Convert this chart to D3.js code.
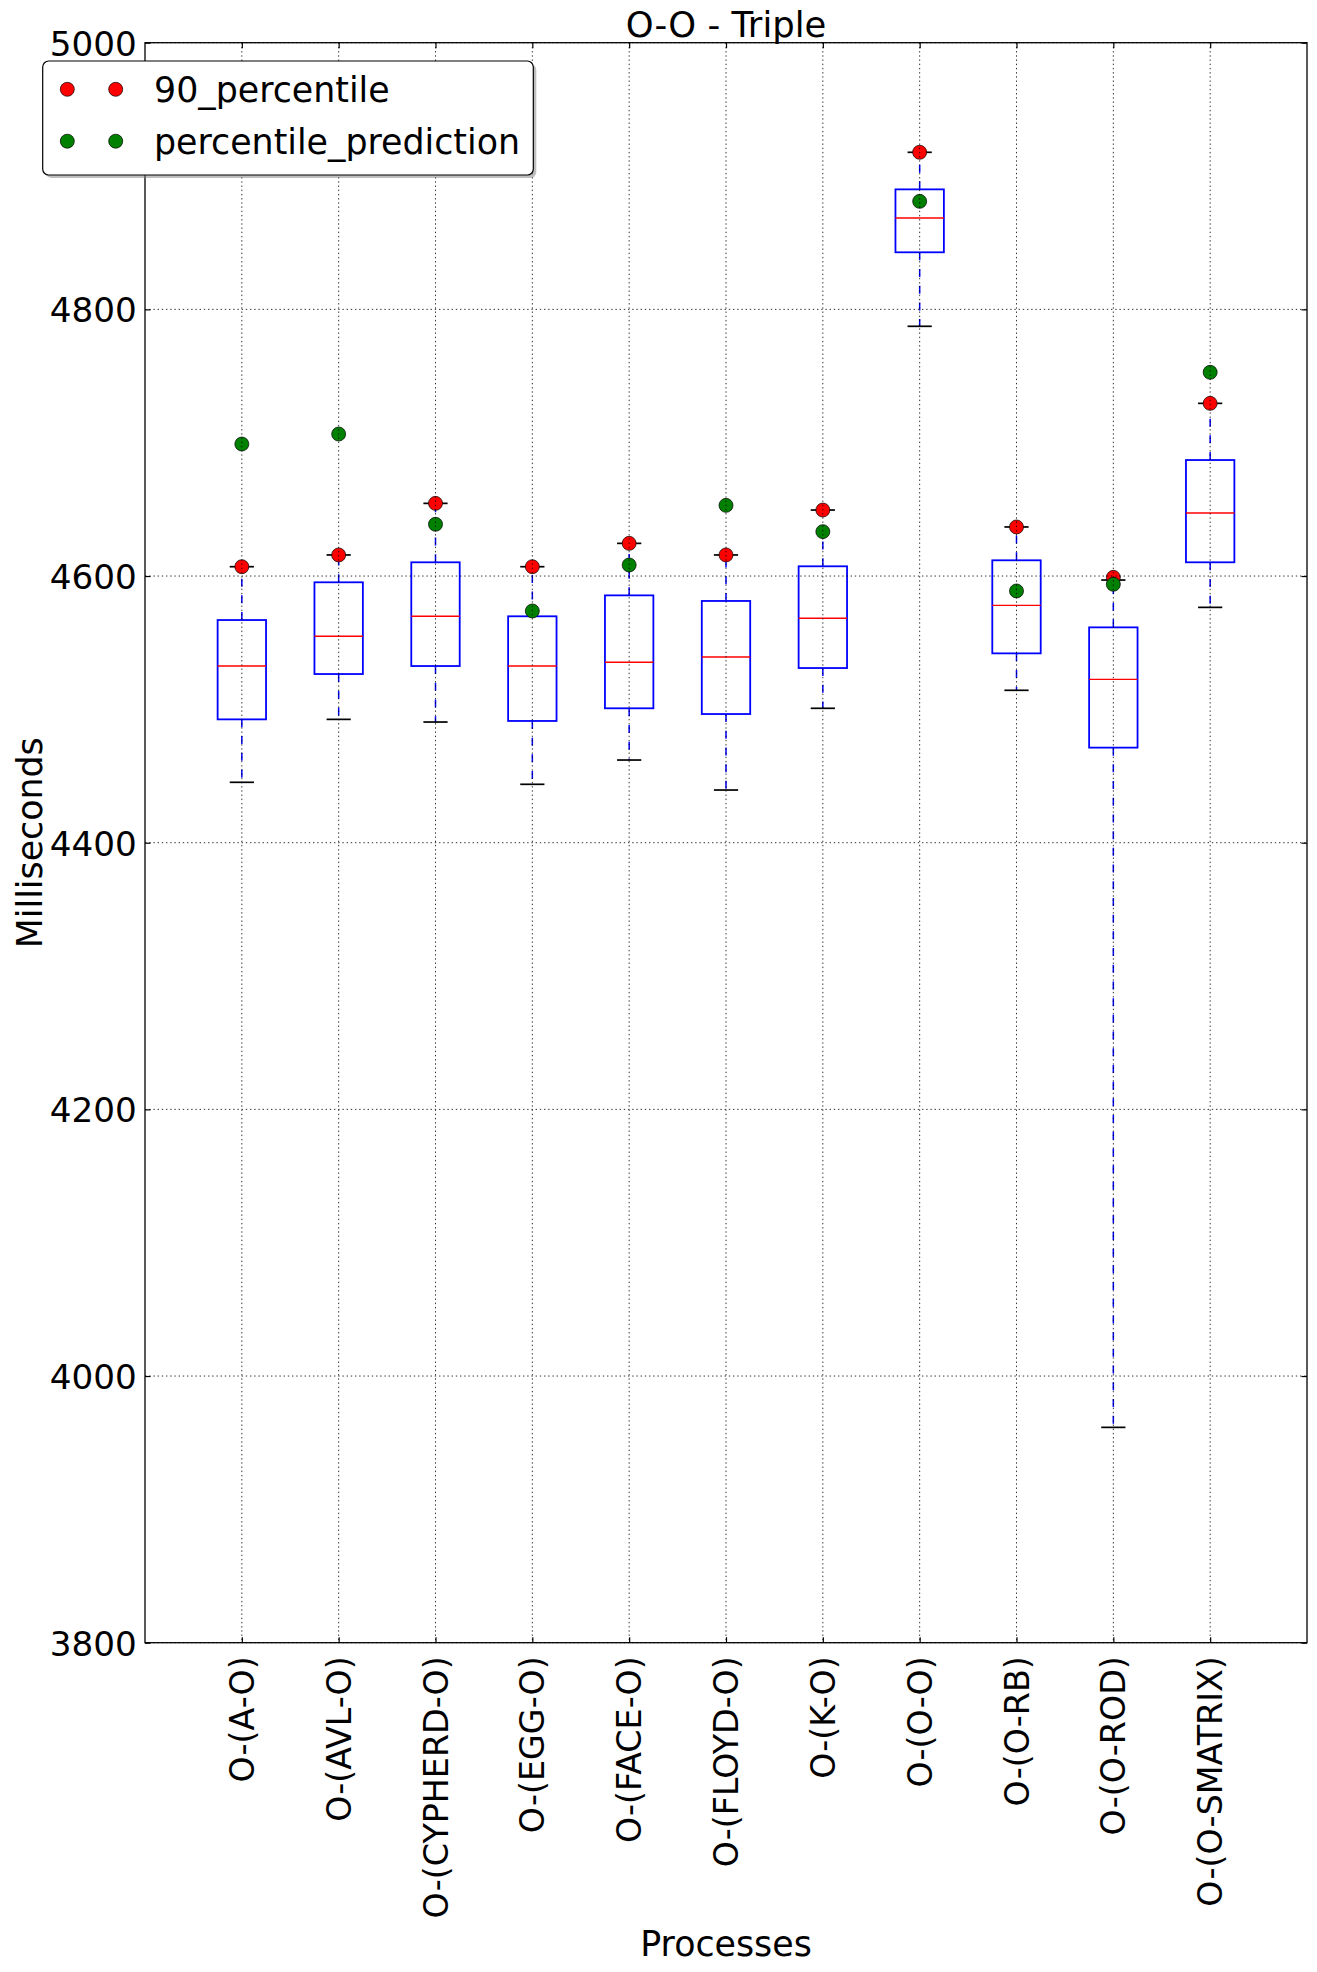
<!DOCTYPE html>
<html>
<head>
<meta charset="utf-8">
<script src="https://cdn.jsdelivr.net/npm/d3@7"></script>
<style>
  html, body { margin: 0; padding: 0; background: #fff; }
  svg { display: block; font-family: "DejaVu Sans", sans-serif; }
</style>
</head>
<body>
<svg id="chart" width="1317" height="1972"></svg>
<script>
// ---- data ----
const categories = ["O-(A-O)", "O-(AVL-O)", "O-(CYPHERD-O)", "O-(EGG-O)", "O-(FACE-O)", "O-(FLOYD-O)", "O-(K-O)", "O-(O-O)", "O-(O-RB)", "O-(O-ROD)", "O-(O-SMATRIX)"];
const whiskerLow  = [4445.3, 4492.5, 4490.5, 4443.8, 4462.0, 4439.5, 4500.8, 4787.3, 4514.3, 3961.5, 4576.5];
const q1          = [4492.5, 4526.5, 4532.5, 4491.3, 4500.8, 4496.5, 4531.0, 4842.8, 4542.0, 4471.3, 4610.3];
const median      = [4532.5, 4554.8, 4569.8, 4532.5, 4535.3, 4539.3, 4568.3, 4868.5, 4578.0, 4522.5, 4647.3];
const q3          = [4567.0, 4595.3, 4610.3, 4569.8, 4585.5, 4581.3, 4607.3, 4890.0, 4611.8, 4561.5, 4687.0];
const whiskerHigh = [4607.0, 4615.8, 4654.5, 4607.0, 4624.5, 4615.8, 4649.5, 4917.8, 4636.8, 4597.0, 4729.5];
const percentile90 = [4607.0, 4615.8, 4654.5, 4607.0, 4624.5, 4615.8, 4649.5, 4917.8, 4636.8, 4599.0, 4729.5];
const percentilePrediction = [4699.0, 4706.5, 4638.8, 4573.8, 4608.3, 4653.0, 4633.3, 4881.0, 4588.8, 4593.8, 4752.8];
const yTicks = [3800, 4000, 4200, 4400, 4600, 4800, 5000];
const legendLabels = ["90_percentile", "percentile_prediction"];
const titleText = "O-O - Triple";
const xLabel = "Processes";
const yLabel = "Milliseconds";

// ---- layout ----
const L = 145, R = 1307, T = 42.7, B = 1642.7;
const FS = 34.8, FSX = 33.3, FSY = 34.2;
const svg = d3.select("#chart");

const x = d3.scaleLinear().domain([0, categories.length + 1]).range([L, R]);
const y = d3.scaleLinear().domain([3800, 5000]).range([B, T]);

const rows = categories.map((c, i) => ({
  c, pos: i + 1,
  lo: whiskerLow[i], q1: q1[i], med: median[i], q3: q3[i], hi: whiskerHigh[i],
  p90: percentile90[i], pred: percentilePrediction[i]
}));

const plot = svg.append("g");
const boxW = 0.5, capW = 0.25;

// whiskers
plot.selectAll(".wl").data(rows).join("line")
  .attr("x1", d => x(d.pos)).attr("x2", d => x(d.pos))
  .attr("y1", d => y(d.q1)).attr("y2", d => y(d.lo))
  .attr("stroke", "#0000ff").attr("stroke-width", 1.5).attr("stroke-dasharray", "8,8.7");
plot.selectAll(".wh").data(rows).join("line")
  .attr("x1", d => x(d.pos)).attr("x2", d => x(d.pos))
  .attr("y1", d => y(d.q3)).attr("y2", d => y(d.hi))
  .attr("stroke", "#0000ff").attr("stroke-width", 1.5).attr("stroke-dasharray", "8,8.7");
// caps
["lo", "hi"].forEach(k => {
  plot.selectAll(".cap" + k).data(rows).join("line")
    .attr("x1", d => x(d.pos - capW / 2)).attr("x2", d => x(d.pos + capW / 2))
    .attr("y1", d => y(d[k])).attr("y2", d => y(d[k]))
    .attr("stroke", "#000").attr("stroke-width", 1.7);
});
// boxes
plot.selectAll(".box").data(rows).join("rect")
  .attr("x", d => x(d.pos - boxW / 2)).attr("width", d => x(d.pos + boxW / 2) - x(d.pos - boxW / 2))
  .attr("y", d => y(d.q3)).attr("height", d => y(d.q1) - y(d.q3))
  .attr("fill", "none").attr("stroke", "#0000ff").attr("stroke-width", 1.8);
// medians
plot.selectAll(".med").data(rows).join("line")
  .attr("x1", d => x(d.pos - boxW / 2)).attr("x2", d => x(d.pos + boxW / 2))
  .attr("y1", d => y(d.med)).attr("y2", d => y(d.med))
  .attr("stroke", "#ff0000").attr("stroke-width", 1.4);
// markers
plot.selectAll(".p90").data(rows).join("circle")
  .attr("cx", d => x(d.pos)).attr("cy", d => y(d.p90)).attr("r", 7)
  .attr("fill", "#ff0000").attr("stroke", "#000").attr("stroke-width", 0.7);
plot.selectAll(".pred").data(rows).join("circle")
  .attr("cx", d => x(d.pos)).attr("cy", d => y(d.pred)).attr("r", 7)
  .attr("fill", "#008000").attr("stroke", "#000").attr("stroke-width", 0.7);

// grid (drawn above data, classic style)
const grid = svg.append("g").attr("stroke", "#000").attr("stroke-width", 1).attr("stroke-dasharray", "1.4,2.8").attr("opacity", 0.8);
grid.selectAll(".gy").data(yTicks).join("line")
  .attr("x1", L).attr("x2", R).attr("y1", d => y(d)).attr("y2", d => y(d));
grid.selectAll(".gx").data(rows).join("line")
  .attr("y1", T).attr("y2", B).attr("x1", d => x(d.pos)).attr("x2", d => x(d.pos));

// axes
const tickLen = 5.5;
const ax = svg.append("g");
const axLeft = ax.append("g").attr("transform", `translate(${L},0)`)
  .call(d3.axisLeft(y).tickValues(yTicks).tickSize(-tickLen).tickPadding(8).tickFormat(d3.format("d")));
const axRight = ax.append("g").attr("transform", `translate(${R},0)`)
  .call(d3.axisRight(y).tickValues(yTicks).tickSize(-tickLen).tickFormat(""));
const xs = d3.scalePoint().domain(categories).range([x(1), x(categories.length)]);
const axBottom = ax.append("g").attr("transform", `translate(0,${B})`)
  .call(d3.axisBottom(xs).tickSize(-tickLen).tickPadding(0));
const axTop = ax.append("g").attr("transform", `translate(0,${T})`)
  .call(d3.axisTop(xs).tickSize(-tickLen).tickFormat(""));
[axLeft, axRight, axBottom, axTop].forEach(g => {
  g.select(".domain").remove();
  g.selectAll(".tick line").attr("stroke", "#000").attr("stroke-width", 1.2);
});
axLeft.selectAll(".tick text").attr("font-size", FSY).attr("fill", "#000")
  .attr("font-family", "DejaVu Sans").attr("dy", "0.36em").attr("x", -8.3);
axBottom.selectAll(".tick text")
  .attr("font-size", FSX).attr("fill", "#000").attr("font-family", "DejaVu Sans")
  .attr("text-anchor", "end").attr("dominant-baseline", "central")
  .attr("y", 0).attr("dy", 0)
  .attr("transform", "translate(0,13.5) rotate(-90)");

// frame
svg.append("rect").attr("x", L).attr("y", T).attr("width", R - L).attr("height", B - T)
  .attr("fill", "none").attr("stroke", "#000").attr("stroke-width", 1.3);

// title & labels
svg.append("text").attr("x", (L + R) / 2).attr("y", 36.7).attr("text-anchor", "middle")
  .attr("font-size", FS + 0.6).attr("fill", "#000").text(titleText);
svg.append("text").attr("x", (L + R) / 2).attr("y", 1956).attr("text-anchor", "middle")
  .attr("font-size", FS).attr("fill", "#000").text(xLabel);
svg.append("text").attr("transform", `translate(41.7,${(T + B) / 2}) rotate(-90)`)
  .attr("text-anchor", "middle").attr("font-size", FS).attr("fill", "#000").text(yLabel);

// legend
const lg = svg.append("g");
const lx = 42.7, ly = 61, lw = 533.3 - 42.7, lh = 175 - 61;
lg.append("rect").attr("x", lx + 3).attr("y", ly + 3).attr("width", lw).attr("height", lh)
  .attr("rx", 6).attr("fill", "#808080").attr("opacity", 0.5);
lg.append("rect").attr("x", lx).attr("y", ly).attr("width", lw).attr("height", lh)
  .attr("rx", 6).attr("fill", "#fff").attr("stroke", "#000").attr("stroke-width", 1.2);
const legendColors = ["#ff0000", "#008000"];
const legendY = [89.3, 141.2];
legendLabels.forEach((lab, i) => {
  [67.3, 115.7].forEach(mx => {
    lg.append("circle").attr("cx", mx).attr("cy", legendY[i]).attr("r", 7)
      .attr("fill", legendColors[i]).attr("stroke", "#000").attr("stroke-width", 0.7);
  });
  lg.append("text").attr("x", 154).attr("y", legendY[i] + 12.6)
    .attr("font-size", FS).attr("fill", "#000").text(lab);
});
</script>
</body>
</html>
